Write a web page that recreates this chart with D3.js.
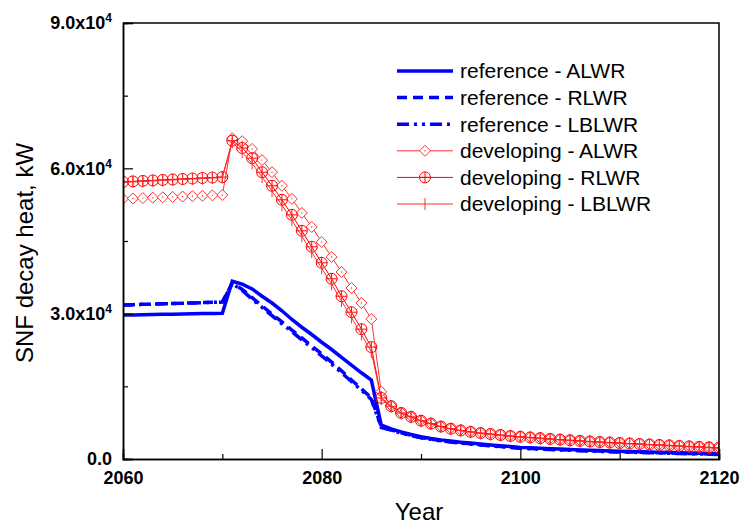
<!DOCTYPE html>
<html>
<head>
<meta charset="utf-8">
<script src="https://cdn.jsdelivr.net/npm/d3@7"></script>
<style>
  body { margin: 0; background: #fff; }
  svg { font-family: Arial, "Liberation Sans", sans-serif; }
</style>
</head>
<body>
<script>
// years 2060..2120, one value per year
var years = d3.range(2060, 2121);

var refALWR = [29700, 29740, 29780, 29820, 29860, 29900, 29940, 29980, 30020, 30060, 30100,
  36700, 36100, 35100, 33600, 32200, 30600, 28800, 27200, 25700, 24100,
  22600, 21000, 19400, 17800, 16300, 7000, 6200, 5600, 5050, 4600,
  4250, 3950, 3700, 3480, 3300, 3100, 2900, 2720, 2560, 2400,
  2300, 2210, 2120, 2040, 1960, 1880, 1810, 1740, 1670, 1600,
  1550, 1490, 1440, 1390, 1340, 1290, 1240, 1190, 1130, 1070];

var refRLWR = [31800, 31860, 31920, 31980, 32040, 32100, 32160, 32220, 32280, 32340, 32400,
  36300, 35000, 33300, 31600, 29900, 28300, 26600, 25000, 23300, 21700,
  20000, 18200, 16300, 14500, 12600, 6700, 6000, 5400, 4900, 4450,
  4100, 3800, 3550, 3330, 3150, 2960, 2770, 2590, 2430, 2280,
  2180, 2090, 2000, 1920, 1840, 1770, 1700, 1630, 1560, 1500,
  1450, 1390, 1340, 1290, 1240, 1190, 1140, 1090, 1040, 990];

var refLBLWR = [31800, 31860, 31920, 31980, 32040, 32100, 32160, 32220, 32280, 32340, 32400,
  36200, 34800, 33000, 31300, 29600, 27900, 26300, 24600, 23000, 21300,
  19600, 17800, 16000, 14200, 12300, 6500, 5950, 5350, 4850, 4400,
  4050, 3750, 3500, 3280, 3100, 2910, 2720, 2540, 2380, 2230,
  2130, 2040, 1950, 1870, 1790, 1720, 1650, 1580, 1510, 1450,
  1400, 1340, 1290, 1240, 1190, 1140, 1090, 1040, 990, 940];

var devALWR = [53700, 53780, 53860, 53940, 54020, 54100, 54180, 54260, 54340, 54420, 54500,
  66200, 65600, 64000, 61700, 59200, 56400, 53700, 50800, 47900, 44800,
  41700, 38600, 35300, 32200, 28900, 13900, 11000, 9600, 8800, 8000,
  7400, 6800, 6350, 6000, 5700, 5450, 5250, 5050, 4850, 4700,
  4550, 4400, 4250, 4100, 3970, 3840, 3720, 3610, 3500, 3400,
  3300, 3200, 3100, 3000, 2910, 2800, 2700, 2600, 2500, 2400];

var devRLWR = [57200, 57300, 57400, 57500, 57600, 57700, 57800, 57900, 58000, 58100, 58200,
  65700, 64200, 62100, 59200, 56400, 53500, 50400, 47100, 43800, 40500,
  37200, 33600, 30300, 26800, 23100, 12600, 10900, 9500, 8700, 7900,
  7300, 6700, 6250, 5900, 5600, 5350, 5150, 4950, 4750, 4600,
  4450, 4300, 4150, 4000, 3870, 3740, 3620, 3510, 3400, 3300,
  3200, 3100, 3000, 2900, 2810, 2700, 2600, 2500, 2400, 2300];

var devLBLWR = [57100, 57200, 57300, 57400, 57500, 57600, 57700, 57800, 57900, 58000, 58100,
  65400, 63300, 61000, 58200, 55300, 52400, 49300, 46000, 42700, 39400,
  36100, 32600, 29200, 25700, 22100, 12300, 10800, 9400, 8600, 7800,
  7200, 6600, 6150, 5800, 5500, 5250, 5050, 4850, 4650, 4500,
  4350, 4200, 4050, 3900, 3770, 3640, 3520, 3410, 3300, 3200,
  3100, 3000, 2900, 2800, 2710, 2600, 2500, 2400, 2300, 2200];

var xTicks = [2060, 2080, 2100, 2120];
var xMinor = [2070, 2090, 2110];
var yTicks = [0, 30000, 60000, 90000];
var yMinor = [15000, 45000, 75000];
var yTickLabels = ["0.0", "3.0x10", "6.0x10", "9.0x10"];

var series = [
  { name: "reference - ALWR", values: refALWR, color: "#0000ff", width: 3.5, dash: null, marker: null },
  { name: "reference - RLWR", values: refRLWR, color: "#0000ff", width: 3.5, dash: "10,6", marker: null },
  { name: "reference - LBLWR", values: refLBLWR, color: "#0000ff", width: 3.5, dash: "12,5,3,5,3,5", marker: null },
  { name: "developing - ALWR", values: devALWR, color: "#ff3030", width: 1, dash: null, marker: "diamond" },
  { name: "developing - RLWR", values: devRLWR, color: "#ff0000", width: 1, dash: null, marker: "circle" },
  { name: "developing - LBLWR", values: devLBLWR, color: "#ff3030", width: 1, dash: null, marker: "bar" }
];

var W = 741, H = 526;
var margin = { left: 123, top: 23, right: 22, bottom: 67 };
var iw = W - margin.left - margin.right, ih = H - margin.top - margin.bottom;

var svg = d3.select("body").append("svg").attr("width", W).attr("height", H);
var g = svg.append("g").attr("transform", "translate(" + margin.left + "," + margin.top + ")");

var x = d3.scaleLinear().domain([2060, 2120]).range([0, iw]);
var y = d3.scaleLinear().domain([0, 90000]).range([ih, 0]);

svg.append("defs").append("clipPath").attr("id", "plot")
  .append("rect").attr("width", iw).attr("height", ih);

var plot = g.append("g").attr("clip-path", "url(#plot)");

var line = d3.line().x(function (d) { return x(d[0]); }).y(function (d) { return y(d[1]); });

function drawMarker(sel, type, color) {
  if (type === "diamond") {
    sel.append("path").attr("d", "M0,-5.5L5.5,0L0,5.5L-5.5,0Z")
      .attr("fill", "#fff").attr("stroke", color).attr("stroke-width", 1);
    sel.append("circle").attr("r", 0.7).attr("fill", color);
  } else if (type === "circle") {
    sel.append("circle").attr("r", 5.5).attr("fill", "none").attr("stroke", color).attr("stroke-width", 1);
    sel.append("path").attr("d", "M-5.5,0H5.5M0,-5.5V5.5").attr("stroke", color).attr("stroke-width", 1);
  } else if (type === "bar") {
    sel.append("path").attr("d", "M0,-6V6").attr("stroke", color).attr("stroke-width", 1);
  }
}

series.forEach(function (s) {
  var pts = years.map(function (yr, i) { return [yr, s.values[i]]; });
  plot.append("path").datum(pts)
    .attr("d", line)
    .attr("fill", "none")
    .attr("stroke", s.color)
    .attr("stroke-width", s.width)
    .attr("stroke-dasharray", s.dash);
  if (s.marker) {
    plot.selectAll(null).data(pts).enter().append("g")
      .attr("transform", function (d) { return "translate(" + x(d[0]) + "," + y(d[1]) + ")"; })
      .each(function () { drawMarker(d3.select(this), s.marker, s.color); });
  }
});

// axes
var xAxis = g.append("g").attr("transform", "translate(0," + ih + ")")
  .call(d3.axisBottom(x).tickValues(xTicks).tickSize(-10).tickPadding(12).tickFormat(d3.format("d")));
g.append("g").attr("transform", "translate(0," + ih + ")")
  .call(d3.axisBottom(x).tickValues(xMinor).tickSize(-5).tickFormat(""));

var yAxis = g.append("g")
  .call(d3.axisLeft(y).tickValues(yTicks).tickSize(-10).tickPadding(11).tickFormat(""));
g.append("g")
  .call(d3.axisLeft(y).tickValues(yMinor).tickSize(-5).tickFormat(""));

yAxis.selectAll(".tick text").each(function (d, i) {
  var t = d3.select(this);
  t.text(yTickLabels[i]);
  if (i > 0) t.append("tspan").attr("baseline-shift", "super").attr("font-size", 12).text("4");
});

g.selectAll(".domain").attr("stroke", "#000").attr("stroke-width", 1.5);
g.selectAll(".tick line").attr("stroke", "#000").attr("stroke-width", 1.2);
g.selectAll(".tick text").attr("font-size", 18).attr("font-weight", "bold").attr("fill", "#000")
  .attr("font-family", "Arial, 'Liberation Sans', sans-serif");

// frame top and right
g.append("path").attr("d", "M0,0H" + iw + "V" + ih)
  .attr("fill", "none").attr("stroke", "#000").attr("stroke-width", 1.5);

// axis titles
svg.append("text").attr("x", margin.left + iw / 2 - 2).attr("y", 520)
  .attr("text-anchor", "middle").attr("font-size", 24).text("Year");
svg.append("text").attr("transform", "translate(33," + (margin.top + ih / 2 + 12) + ") rotate(-90)")
  .attr("text-anchor", "middle").attr("font-size", 24).text("SNF decay heat, kW");

// legend
var legend = svg.append("g").attr("transform", "translate(397,71)");
series.forEach(function (s, i) {
  var row = legend.append("g").attr("transform", "translate(0," + (i * 26.6) + ")");
  row.append("line").attr("x1", 0).attr("x2", 56).attr("y1", 0).attr("y2", 0)
    .attr("stroke", s.color).attr("stroke-width", s.width).attr("stroke-dasharray", s.dash);
  if (s.marker) {
    var m = row.append("g").attr("transform", "translate(28,0)");
    drawMarker(m, s.marker, s.color);
  }
  row.append("text").attr("x", 63).attr("y", 0).attr("dy", "0.35em")
    .attr("font-size", 21).text(s.name);
});
</script>
</body>
</html>
